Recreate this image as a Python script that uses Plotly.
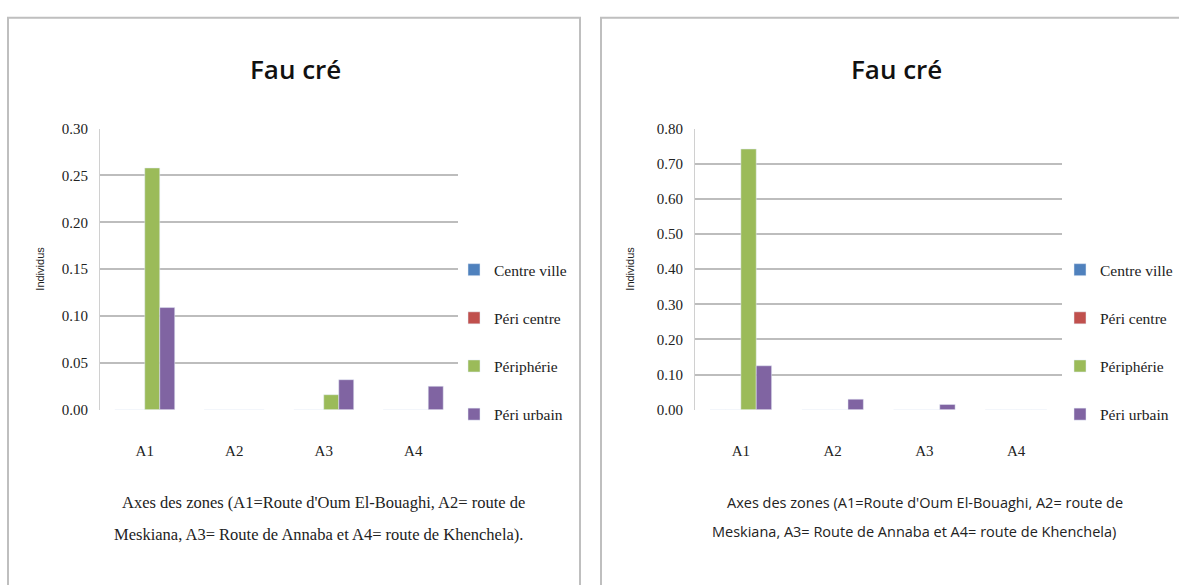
import plotly.graph_objects as go

zones = ["A1", "A2", "A3", "A4"]
series_names = ["Centre ville", "Péri centre", "Périphérie", "Péri urbain"]
colors = ["#4F81BD", "#C0504D", "#9BBB59", "#8064A2"]

# Left chart values
left_values = {
    "Centre ville": [0, 0, 0, 0],
    "Péri centre": [0, 0, 0, 0],
    "Périphérie": [0.258, 0, 0.016, 0],
    "Péri urbain": [0.109, 0, 0.032, 0.025],
}
# Right chart values
right_values = {
    "Centre ville": [0, 0, 0, 0],
    "Péri centre": [0, 0, 0, 0],
    "Périphérie": [0.742, 0, 0, 0],
    "Péri urbain": [0.125, 0.030, 0.015, 0],
}
left_ticks = [0.00, 0.05, 0.10, 0.15, 0.20, 0.25, 0.30]
right_ticks = [0.00, 0.10, 0.20, 0.30, 0.40, 0.50, 0.60, 0.70, 0.80]

title_text = "Fau cré"
ytitle = "Individus"
left_xtitle_lines = ["Axes des zones (A1=Route d'Oum El-Bouaghi, A2= route de",
                     "Meskiana, A3= Route de Annaba et A4= route de Khenchela)."]
right_xtitle_lines = ["Axes des zones (A1=Route d'Oum El-Bouaghi, A2= route de",
                      "Meskiana, A3= Route de Annaba et A4= route de Khenchela)"]

W, H = 1179, 585
def px(x):
    return x / W
def py(y):
    return 1 - y / H

fig = go.Figure()
for name, col in zip(series_names, colors):
    fig.add_trace(go.Bar(x=zones, y=left_values[name], name=name, marker_color=col,
                         xaxis="x", yaxis="y", legend="legend", legendgroup="L" + name))
for name, col in zip(series_names, colors):
    fig.add_trace(go.Bar(x=zones, y=right_values[name], name=name, marker_color=col,
                         xaxis="x2", yaxis="y2", legend="legend2", legendgroup="R" + name))

serif = "Liberation Serif"
axis_common = dict(showgrid=False, showline=False, zeroline=False, ticks="",
                   tickfont=dict(family=serif, size=15, color="#222"), ticklabelstandoff=30)
yaxis_common = dict(showgrid=True, gridcolor="#BDBDBD", gridwidth=2, showline=True,
                    linecolor="#D0D0D0", linewidth=1, zeroline=False, ticks="",
                    tickfont=dict(family=serif, size=15, color="#222"), tickformat=".2f",
                    ticklabelstandoff=8)

annotations = [
    dict(text=title_text, x=px(295), y=py(63), xref="paper", yref="paper", showarrow=False,
         font=dict(family="Open Sans", size=26, color="#111", weight=600),
         xanchor="center", yanchor="middle"),
    dict(text=title_text, x=px(896), y=py(63), xref="paper", yref="paper", showarrow=False,
         font=dict(family="Open Sans", size=26, color="#111", weight=600),
         xanchor="center", yanchor="middle"),
    dict(text=ytitle, x=px(40), y=py(268), xref="paper", yref="paper", showarrow=False,
         textangle=-90, font=dict(family="Liberation Sans", size=11, color="#222"),
         xanchor="center", yanchor="middle"),
    dict(text=ytitle, x=px(630), y=py(268), xref="paper", yref="paper", showarrow=False,
         textangle=-90, font=dict(family="Liberation Sans", size=11, color="#222"),
         xanchor="center", yanchor="middle"),
]
for line, yy, xx in zip(left_xtitle_lines, [508, 541], [323, 318]):
    annotations.append(dict(text=line, x=px(xx), y=py(yy), xref="paper", yref="paper",
                            showarrow=False, font=dict(family=serif, size=16.5, color="#222"),
                            xanchor="center", yanchor="middle"))
for line, yy, xx in zip(right_xtitle_lines, [508, 538], [925, 914]):
    annotations.append(dict(text=line, x=px(xx), y=py(yy), xref="paper", yref="paper",
                            showarrow=False, font=dict(family="Open Sans", size=14.5, color="#222"),
                            xanchor="center", yanchor="middle"))

fig.update_layout(
    width=W, height=H, margin=dict(l=0, r=0, t=0, b=0),
    paper_bgcolor="white", plot_bgcolor="white",
    barmode="group", bargap=0.33, bargroupgap=0,
    xaxis=dict(domain=[px(100), px(458)], anchor="y", **axis_common),
    yaxis=dict(domain=[py(413), py(124)], anchor="x", range=[0, 0.30],
               tickvals=left_ticks, **yaxis_common),
    xaxis2=dict(domain=[px(695), px(1062)], anchor="y2", **axis_common),
    yaxis2=dict(domain=[py(413), py(124)], anchor="x2", range=[0, 0.80],
                tickvals=right_ticks, **yaxis_common),
    legend=dict(x=px(454), y=py(252), xanchor="left", yanchor="top",
                font=dict(family=serif, size=15.5, color="#222"),
                traceorder="grouped", tracegroupgap=25, itemwidth=30,
                bgcolor="rgba(0,0,0,0)"),
    legend2=dict(x=px(1060), y=py(252), xanchor="left", yanchor="top",
                 font=dict(family=serif, size=15.5, color="#222"),
                 traceorder="grouped", tracegroupgap=25, itemwidth=30,
                 bgcolor="rgba(0,0,0,0)"),
    shapes=[
        dict(type="rect", xref="paper", yref="paper", x0=px(8), x1=px(580), y0=py(600), y1=py(10),
             line=dict(color="#BFBFBF", width=2), fillcolor="rgba(0,0,0,0)", layer="below"),
        dict(type="rect", xref="paper", yref="paper", x0=px(601), x1=px(1195), y0=py(600), y1=py(10),
             line=dict(color="#BFBFBF", width=2), fillcolor="rgba(0,0,0,0)", layer="below"),
    ],
    annotations=annotations,
)

post = (
    "var h=document.documentElement,b=document.body;"
    "h.style.margin='0';h.style.padding='0';h.style.overflow='hidden';"
    "b.style.margin='0';b.style.padding='0';b.style.overflow='hidden';"
)
fig.write_html("out.html", config={"displayModeBar": False}, post_script=post)
